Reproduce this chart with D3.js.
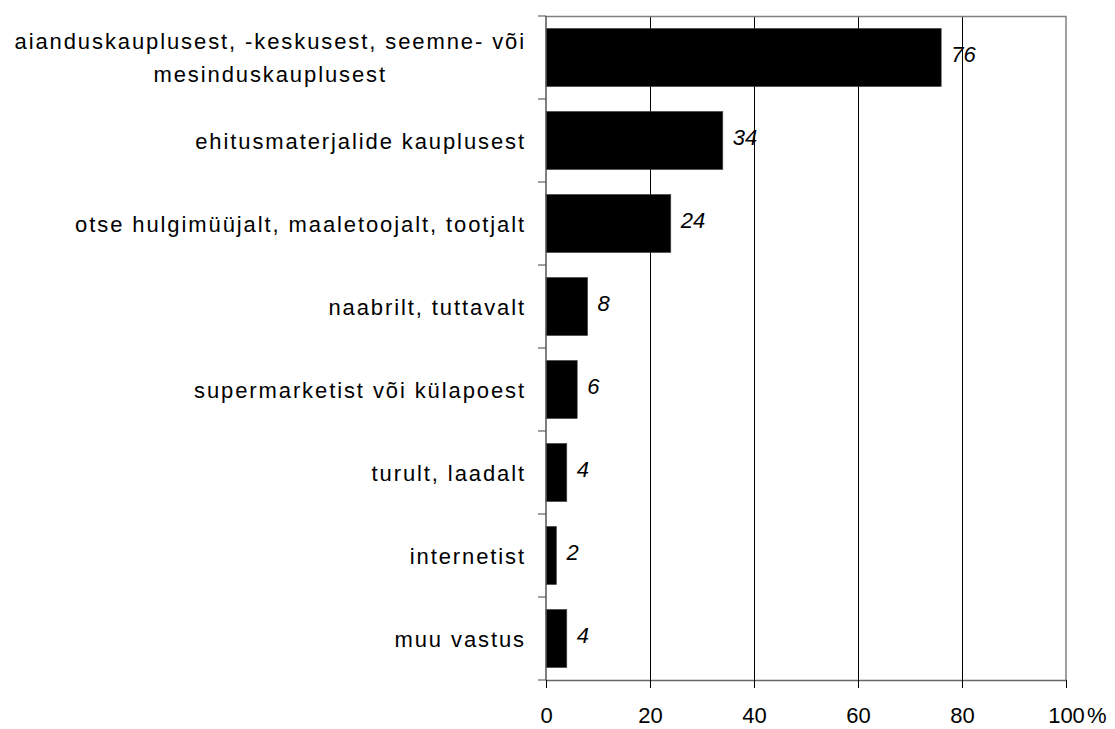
<!DOCTYPE html>
<html>
<head>
<meta charset="utf-8">
<script src="https://cdn.jsdelivr.net/npm/d3@7"></script>
<style>
  body { margin: 0; background: #fff; }
  text { font-family: "Liberation Sans", Arial, sans-serif; fill: #000; }
</style>
</head>
<body>
<div class="chart"></div>
<script>
// categories (line breaks as in the original)
const categories = [
  "aianduskauplusest, -keskusest, seemne- või\nmesinduskauplusest",
  "ehitusmaterjalide kauplusest",
  "otse hulgimüüjalt, maaletoojalt, tootjalt",
  "naabrilt, tuttavalt",
  "supermarketist või külapoest",
  "turult, laadalt",
  "internetist",
  "muu vastus"
]
const values = [76, 34, 24, 8, 6, 4, 2, 4]
const xTicks = [0, 20, 40, 60, 80, 100]

const width = 1115, height = 729
const margin = ({top: 16, right: 49, bottom: 49, left: 546})

const svg = d3.select(".chart").append("svg")
    .attr("width", width)
    .attr("height", height)

const xScale = d3.scaleLinear()
    .domain([0, 100])
    .range([margin.left, width - margin.right])

const yScale = d3.scaleBand()
    .domain(categories)
    .range([margin.top, height - margin.bottom])
    .paddingInner(0.3)
    .paddingOuter(0.15)

const y0 = margin.top, y1 = height - margin.bottom

// gridlines
svg.append("g")
    .selectAll("line")
    .data(xTicks.filter(d => d > 0 && d < 100))
    .join("line")
    .attr("x1", d => xScale(d) + 0.5)
    .attr("x2", d => xScale(d) + 0.5)
    .attr("y1", y0)
    .attr("y2", y1)
    .attr("stroke", "#000")
    .attr("stroke-width", 1)

// top + right border
svg.append("path")
    .attr("d", `M${xScale(0)},${y0 + 0.5}H${xScale(100)}V${y1}`)
    .attr("fill", "none")
    .attr("stroke", "#808080")
    .attr("stroke-width", 1.5)

// bars
svg.append("g")
    .selectAll("rect")
    .data(values)
    .join("rect")
    .attr("x", xScale(0))
    .attr("y", (d, i) => yScale(categories[i]))
    .attr("width", d => xScale(d) - xScale(0))
    .attr("height", yScale.bandwidth())
    .attr("fill", "#000")
    .attr("stroke", "#444")
    .attr("stroke-width", 0.6)

// value labels
svg.append("g")
    .selectAll("text")
    .data(values)
    .join("text")
    .attr("x", d => xScale(d) + 10)
    .attr("y", (d, i) => yScale(categories[i]) + yScale.bandwidth() / 2 + 4)
    .attr("font-size", 22)
    .attr("font-style", "italic")
    .text(d => d)

// x axis
const xAxis = d3.axisBottom(xScale)
    .tickValues(xTicks)
    .tickSize(8)
    .tickPadding(19)
    .tickSizeOuter(0)

const gx = svg.append("g")
    .attr("transform", `translate(0,${y1})`)
    .call(xAxis)
gx.select(".domain").attr("stroke", "#666").attr("stroke-width", 1.5)
gx.selectAll(".tick line").attr("stroke", "#000")
gx.selectAll(".tick text")
    .attr("font-size", 22)
    .attr("font-family", "Liberation Sans, Arial, sans-serif")
    .attr("fill", "#000")

svg.append("text")
    .attr("x", xScale(100) + 21)
    .attr("y", y1 + 43)
    .attr("font-size", 22)
    .text("%")

// y axis: category boundary ticks
const bounds = d3.range(categories.length + 1).map(i => y0 + i * (y1 - y0) / categories.length)
svg.append("g")
    .selectAll("line")
    .data(bounds)
    .join("line")
    .attr("x1", xScale(0) - 8)
    .attr("x2", xScale(0))
    .attr("y1", d => d)
    .attr("y2", d => d)
    .attr("stroke", "#808080")
    .attr("stroke-width", 1.5)

svg.append("line")
    .attr("x1", xScale(0))
    .attr("x2", xScale(0))
    .attr("y1", y0)
    .attr("y2", y1)
    .attr("stroke", "#555")
    .attr("stroke-width", 1.5)

// category labels
const labelRight = 526
const step = (y1 - y0) / categories.length
const labels = svg.append("g")
    .attr("font-size", 22)
    .attr("letter-spacing", "1.9px")

categories.forEach((c, i) => {
  const lines = c.split("\n")
  const cy = y0 + step * (i + 0.5)
  const t = labels.append("text")
      .attr("text-anchor", "middle")
      .attr("dominant-baseline", "central")
  lines.forEach((l, j) => {
    t.append("tspan")
      .attr("y", cy + (j - (lines.length - 1) / 2) * 33)
      .text(l)
  })
  const w = d3.max(t.selectAll("tspan").nodes(), n => n.getComputedTextLength())
  t.selectAll("tspan").attr("x", labelRight - w / 2)
})
</script>
</body>
</html>
